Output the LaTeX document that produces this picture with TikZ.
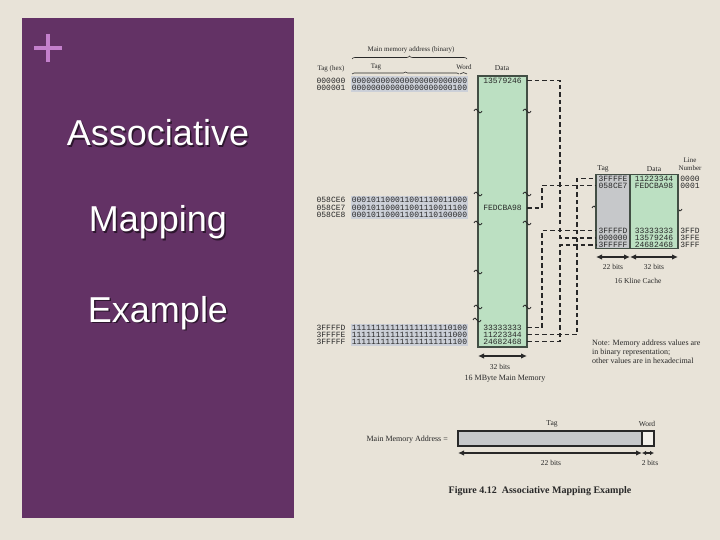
\documentclass[tikz,border=0pt]{standalone}
\usepackage{fontspec}
\setmainfont{Liberation Serif}
\newfontfamily\monofont{Liberation Mono}
\newfontfamily\slidefont{Liberation Sans}
\usetikzlibrary{positioning,arrows.meta,calc,decorations.pathreplacing}
\definecolor{slidebg}{RGB}{232,227,216}
\definecolor{plum}{RGB}{99,50,101}
\definecolor{lilac}{RGB}{196,128,204}
\definecolor{memgreen}{RGB}{188,224,194}
\definecolor{edgegray}{RGB}{66,78,68}
\definecolor{taggray}{RGB}{198,200,202}
\definecolor{addrgray}{RGB}{204,208,216}
\definecolor{ink}{RGB}{40,40,40}

\begin{document}
\begin{tikzpicture}[>={Latex[length=6pt,width=5.5pt]}, x=1pt, y=-1pt,
    hdr/.style={font=\fontsize{7}{8}\selectfont, text=ink, inner sep=0pt},
    lbl/.style={font=\fontsize{7.5}{9}\selectfont, text=ink, inner sep=0pt},
    txt/.style={font=\fontsize{8}{9}\selectfont, text=ink, inner sep=0pt},
    val/.style={font=\monofont\fontsize{8}{8}\selectfont, text=ink, inner sep=0pt},
    title/.style={font=\slidefont\fontsize{36}{40}\selectfont, anchor=base, inner sep=0pt},
    col/.style={draw=edgegray, line width=1.5pt, inner sep=0pt, outer sep=0pt},
    brc/.style={decorate, decoration={brace, amplitude=#1}, draw=ink, line width=0.6pt},
    dim/.style={<->, draw=ink, line width=1.2pt},
    link/.style={draw=ink, line width=1.3pt, dash pattern=on 4.5pt off 3pt},
    brk/.style={draw=ink, line width=0.8pt}]
  \useasboundingbox (0,0) rectangle (720,540);
  \fill[slidebg] (0,0) rectangle (720,540);

  % slide title panel
  \fill[plum] (22,18) rectangle (294,518);
  \draw[lilac, line width=3.5pt] (34,48) -- (62,48) (48,34) -- (48,62);
  \foreach \w/\y in {Associative/146, Mapping/232, Example/322} {
    \node[title, text=black, opacity=0.55] (sh\w) at (159.5,\y+1.5) {\w};
    \node[title, text=white] (tt\w) at (158,\y) {\w};
  }

  % main memory
  \node[hdr] (mmhead) at (411,50) {Main memory address (binary)};
  \draw[brc=3pt] (352,59) -- (467,59);
  \node[hdr] (taghex) at (331,68.5) {Tag (hex)};
  \node[hdr] (tagbit) at (376,67) {Tag};
  \node[hdr] (wordbit) at (464,67) {Word};
  \draw[brc=2pt] (352,74) -- (459,74);
  \draw[brc=1.5pt] (460,74) -- (467,74);
  \node[lbl] (datahead) at (502,68) {Data};
  \fill[addrgray] (351,76.5) rectangle (468,92);
  \fill[addrgray] (351,196) rectangle (468,219);
  \fill[addrgray] (351,323.5) rectangle (468,345.5);
  \foreach \h/\b/\y [count=\i] in {000000/000000000000000000000000/80.5,
      000001/000000000000000000000100/88, 058CE6/000101100011001110011000/200,
      058CE7/000101100011001110011100/207.5, 058CE8/000101100011001110100000/215,
      3FFFFD/111111111111111111110100/327.5, 3FFFFE/111111111111111111111000/334.5,
      3FFFFF/111111111111111111111100/341.5} {
    \node[val] (hx\i) at (331,\y) {\h};
    \node[val] (bn\i) at (409.5,\y) {\b};
  }
  \node[col, fill=memgreen, minimum width=49pt, minimum height=271pt] (mem) at (502.5,211.5) {};
  \foreach \v/\y/\n in {13579246/80.5/m1, FEDCBA98/208/m2, 33333333/327.5/m3,
      11223344/334.5/m4, 24682468/341.5/m5}
    \node[val] (\n) at (502.5,\y) {\v};
  \foreach \x/\y in {478/111, 527/111, 478/194, 527/194, 478/223, 527/223,
      478/272, 478/307, 527/307, 477/320, 596/208, 678/209}
    \draw[brk] (\x-4,\y) .. controls (\x-2.5,\y-3) and (\x-1,\y-2) .. (\x,\y)
      .. controls (\x+1,\y+2) and (\x+2.5,\y+3) .. (\x+4,\y);
  \draw[dim] ($(mem.south west)+(0,9)$) -- ($(mem.south east)+(0,9)$);
  \node[lbl] (membits) at (500,367) {32 bits};
  \node[txt] (memname) at (505,379) {16 MByte Main Memory};

  % cache
  \node[col, fill=taggray, minimum width=34pt, minimum height=74pt] (ctag) at (613,211.5) {};
  \node[col, fill=memgreen, minimum width=48pt, minimum height=74pt] (cdat) at (654,211.5) {};
  \node[lbl] (ctaghead) at (603,169) {Tag};
  \node[lbl] (cdathead) at (654,169) {Data};
  \node[hdr, align=center] (linehead) at (690,164.5) {Line\\Number};
  \foreach \t/\d/\l/\y [count=\i] in {3FFFFE/11223344/0000/178.5, 058CE7/FEDCBA98/0001/185.5,
      3FFFFD/33333333/3FFD/230.5, 000000/13579246/3FFE/238, 3FFFFF/24682468/3FFF/245} {
    \node[val] (c\i) at (613,\y) {\t};
    \node[val] (d\i) at (654,\y) {\d};
    \node[val] (n\i) at (690,\y) {\l};
  }
  \foreach \a/\b/\d in {m1/c4/33, m2/c2/15, m3/c3/15, m4/c1/50, m5/c5/33}
    \draw[link] (mem.east |- \a) -- ++(\d,0) |- (ctag.west |- \b);
  \draw[dim] ($(ctag.south west)+(0,8.5)$) -- ($(ctag.south east)+(0,8.5)$);
  \draw[dim] ($(cdat.south west)+(0,8.5)$) -- ($(cdat.south east)+(0,8.5)$);
  \node[lbl] (tagbits) at (613,267) {22 bits};
  \node[lbl] (datbits) at (654,267) {32 bits};
  \node[lbl] (cachename) at (638,281) {16 Kline Cache};
  \node[txt, anchor=west, align=left] (note) at (592,351.5)
    {Note: Memory address values are\\in binary representation;\\other values are in hexadecimal};

  % address format
  \node[txt, anchor=east] (addrname) at (448,440) {Main Memory Address =};
  \node[col, draw=ink, fill=taggray, minimum width=184pt, minimum height=15pt, anchor=west] (atag) at (458,438.5) {};
  \node[col, draw=ink, fill=slidebg!50!white, minimum width=12pt, minimum height=15pt, right=0pt of atag] (aword) {};
  \node[lbl] (atagname) at (552,424) {Tag};
  \node[lbl] (awordname) at (647,424) {Word};
  \draw[dim] ($(atag.south west)+(0,7)$) -- ($(atag.south east)+(0,7)$);
  \draw[dim, >={Latex[length=4pt,width=4.5pt]}] ($(aword.south west)+(0,7)$) -- ($(aword.south east)+(0,7)$);
  \node[lbl] (atagbits) at (551,463) {22 bits};
  \node[lbl] (awordbits) at (650,463) {2 bits};
  \node[font=\bfseries\fontsize{10}{12}\selectfont, text=ink, inner sep=0pt] (caption) at (540,491)
    {Figure 4.12\ \ Associative Mapping Example};
\end{tikzpicture}
\end{document}
